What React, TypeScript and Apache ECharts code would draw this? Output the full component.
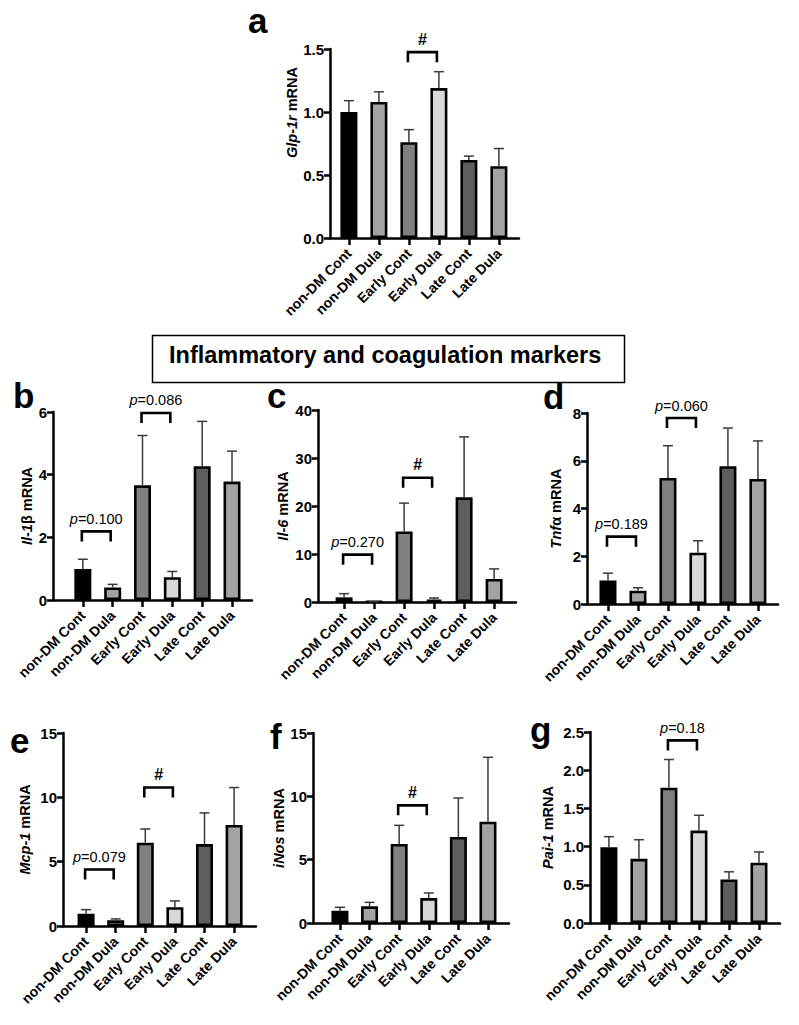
import React, { useEffect, useRef } from 'react';
import * as echarts from 'echarts';

const FONT = '"Liberation Sans", Arial, Helvetica, sans-serif';

const categories = ['non-DM Cont', 'non-DM Dula', 'Early Cont', 'Early Dula', 'Late Cont', 'Late Dula'];
const barColors = ['#000000', '#a3a3a3', '#808080', '#d8d8d8', '#5e5e5e', '#a3a3a3'];

// a: Glp-1r
const glp1rMean = [1.0, 1.08, 0.76, 1.19, 0.62, 0.57];
const glp1rSem = [0.09, 0.08, 0.1, 0.13, 0.03, 0.14];
const glp1rBrackets: [number, number, number, string][] = [[2, 3, 1.475, '#']];
const glp1rTicks = { max: 1.5, interval: 0.5, decimals: 1 };

// b: Il-1β
const il1bMean = [0.99, 0.4, 3.66, 0.73, 4.27, 3.78];
const il1bSem = [0.31, 0.1, 1.59, 0.18, 1.43, 0.97];
const il1bBrackets: [number, number, number, string][] = [[0, 1, 2.19, 'p=0.100'], [2, 3, 5.97, 'p=0.086']];
const il1bTicks = { max: 6, interval: 2, decimals: 0 };

// c: Il-6
const il6Mean = [0.97, 0.05, 14.7, 0.5, 21.8, 4.8];
const il6Sem = [0.77, 0.05, 5.9, 0.33, 12.6, 2.1];
const il6Brackets: [number, number, number, string][] = [[0, 1, 9.86, 'p=0.270'], [2, 3, 25.9, '#']];
const il6Ticks = { max: 40, interval: 10, decimals: 0 };

// d: Tnfα
const tnfaMean = [0.98, 0.56, 5.28, 2.15, 5.77, 5.24];
const tnfaSem = [0.31, 0.12, 1.35, 0.5, 1.6, 1.59];
const tnfaBrackets: [number, number, number, string][] = [[0, 1, 2.82, 'p=0.189'], [2, 3, 7.79, 'p=0.060']];
const tnfaTicks = { max: 8, interval: 2, decimals: 0 };

// e: Mcp-1
const mcp1Mean = [0.96, 0.44, 6.47, 1.46, 6.37, 7.85];
const mcp1Sem = [0.31, 0.11, 1.07, 0.49, 2.42, 2.91];
const mcp1Brackets: [number, number, number, string][] = [[0, 1, 4.39, 'p=0.079'], [2, 3, 10.76, '#']];
const mcp1Ticks = { max: 15, interval: 5, decimals: 0 };

// f: iNos
const inosMean = [0.97, 1.32, 6.24, 1.97, 6.79, 8.0];
const inosSem = [0.27, 0.31, 1.47, 0.4, 3.08, 5.08];
const inosBrackets: [number, number, number, string][] = [[2, 3, 9.29, '#']];
const inosTicks = { max: 15, interval: 5, decimals: 0 };

// g: Pai-1
const pai1Mean = [0.99, 0.84, 1.77, 1.21, 0.57, 0.79];
const pai1Sem = [0.14, 0.25, 0.37, 0.2, 0.1, 0.14];
const pai1Brackets: [number, number, number, string][] = [[2, 3, 2.39, 'p=0.18']];
const pai1Ticks = { max: 2.5, interval: 0.5, decimals: 1 };

const boxTitle = 'Inflammatory and coagulation markers';

type Panel = {
  letter: string;
  yName: string;
  mean: number[];
  sem: number[];
  brackets: [number, number, number, string][];
  ticks: { max: number; interval: number; decimals: number };
  axisX: number; endX: number; topY: number; zeroY: number;
  xMin: number; xMax: number; nameGap: number; nameShift: number;
  letterX: number; letterY: number;
};

const panels: Panel[] = [
  { letter: 'a', yName: '{i|Glp-1r} mRNA', mean: glp1rMean, sem: glp1rSem, brackets: glp1rBrackets, ticks: glp1rTicks,
    axisX: 330, endX: 519, topY: 49, zeroY: 238, xMin: -0.63, xMax: 5.67, nameGap: 30, nameShift: 31, letterX: 248, letterY: 3 },
  { letter: 'b', yName: '{i|Il-1}β mRNA', mean: il1bMean, sem: il1bSem, brackets: il1bBrackets, ticks: il1bTicks,
    axisX: 53, endX: 252, topY: 412, zeroY: 600, xMin: -1.0, xMax: 5.67, nameGap: 10, nameShift: 0, letterX: 13, letterY: 378 },
  { letter: 'c', yName: '{i|Il-6} mRNA', mean: il6Mean, sem: il6Sem, brackets: il6Brackets, ticks: il6Ticks,
    axisX: 318, endX: 516, topY: 410, zeroY: 602, xMin: -0.87, xMax: 5.73, nameGap: 28, nameShift: 0, letterX: 267, letterY: 378 },
  { letter: 'd', yName: '{i|Tnf}α mRNA', mean: tnfaMean, sem: tnfaSem, brackets: tnfaBrackets, ticks: tnfaTicks,
    axisX: 587, endX: 778, topY: 413, zeroY: 604, xMin: -0.7, xMax: 5.67, nameGap: 24, nameShift: 0, letterX: 543, letterY: 379 },
  { letter: 'e', yName: '{i|Mcp-1} mRNA', mean: mcp1Mean, sem: mcp1Sem, brackets: mcp1Brackets, ticks: mcp1Ticks,
    axisX: 63, endX: 256, topY: 733, zeroY: 926, xMin: -0.78, xMax: 5.74, nameGap: 31, nameShift: 0, letterX: 10, letterY: 723 },
  { letter: 'f', yName: '{i|iNos} mRNA', mean: inosMean, sem: inosSem, brackets: inosBrackets, ticks: inosTicks,
    axisX: 313, endX: 509, topY: 733, zeroY: 923, xMin: -0.91, xMax: 5.71, nameGap: 25, nameShift: 0, letterX: 270, letterY: 719 },
  { letter: 'g', yName: '{i|Pai-1} mRNA', mean: pai1Mean, sem: pai1Sem, brackets: pai1Brackets, ticks: pai1Ticks,
    axisX: 590, endX: 780, topY: 732, zeroY: 923, xMin: -0.63, xMax: 5.7, nameGap: 35, nameShift: 0, letterX: 530, letterY: 712 },
];

const AXIS_W = 2.5;
const catIdx = categories.map((_, k) => k);

function buildOption() {
  const grid: any[] = [];
  const xAxis: any[] = [];
  const yAxis: any[] = [];
  const series: any[] = [];
  const graphic: any[] = [];

  panels.forEach((p, gi) => {
    grid.push({
      left: p.axisX, top: p.topY, width: p.endX - p.axisX, height: p.zeroY - p.topY,
      containLabel: false, outerBoundsMode: 'none',
    });
    xAxis.push({
      type: 'value', gridIndex: gi, min: p.xMin, max: p.xMax,
      splitLine: { show: false },
      axisLine: { show: true, onZero: false, lineStyle: { color: '#000', width: AXIS_W } },
      axisTick: { show: true, customValues: catIdx, length: 7, lineStyle: { color: '#000', width: AXIS_W } },
      axisLabel: {
        customValues: catIdx, rotate: 45, margin: 13,
        formatter: (v: number) => categories[Math.round(v)] ?? '',
        fontFamily: FONT, fontWeight: 'bold', fontSize: 14, color: '#000',
      },
    });
    yAxis.push({
      type: 'value', gridIndex: gi, min: 0, max: p.ticks.max, interval: p.ticks.interval,
      splitLine: { show: false },
      axisLine: { show: true, onZero: false, lineStyle: { color: '#000', width: AXIS_W } },
      axisTick: { show: true, length: 6, lineStyle: { color: '#000', width: AXIS_W } },
      axisLabel: {
        margin: 6, fontFamily: FONT, fontWeight: 'bold', fontSize: 15, color: '#000',
        formatter: (v: number) => v.toFixed(p.ticks.decimals),
      },
      name: p.yName, nameLocation: 'middle', nameRotate: 90, nameGap: p.nameGap,
      nameTextStyle: {
        fontFamily: FONT, fontWeight: 'bold', fontSize: 14.5, color: '#000',
        padding: p.nameShift ? [0, 0, 0, p.nameShift * 2] : 0,
        rich: { i: { fontFamily: FONT, fontWeight: 'bold', fontStyle: 'italic', fontSize: 14.5, color: '#000' } },
      },
    });

    series.push({
      type: 'bar', xAxisIndex: gi, yAxisIndex: gi, barWidth: 17,
      data: p.mean.map((v, k) => ({ value: [k, v], itemStyle: { color: barColors[k] } })),
      itemStyle: { borderColor: '#000', borderWidth: 2.6 },
      emphasis: { disabled: true },
    });

    series.push({
      type: 'custom', xAxisIndex: gi, yAxisIndex: gi, z: 3,
      data: p.mean.map((v, k) => [k, v, v + p.sem[k]]),
      encode: { x: 0, y: [1, 2] },
      renderItem: (params: any, api: any) => {
        const x = api.value(0), m = api.value(1), u = api.value(2);
        const p0 = api.coord([x, m]);
        const p1 = api.coord([x, u]);
        const st = { stroke: '#3a3a3a', lineWidth: 1.5 };
        return {
          type: 'group',
          children: [
            { type: 'line', shape: { x1: p0[0], y1: p0[1], x2: p1[0], y2: p1[1] }, style: st },
            { type: 'line', shape: { x1: p1[0] - 5, y1: p1[1], x2: p1[0] + 5, y2: p1[1] }, style: st },
          ],
        };
      },
    });

    series.push({
      type: 'custom', xAxisIndex: gi, yAxisIndex: gi, z: 4,
      data: p.brackets.map((b) => [b[0], b[1], b[2]]),
      encode: { x: [0, 1], y: 2 },
      renderItem: (params: any, api: any) => {
        const i = api.value(0), j = api.value(1), y = api.value(2);
        const lbl = p.brackets[params.dataIndex][3];
        const a = api.coord([i, y]);
        const b = api.coord([j, y]);
        const x1 = a[0] - 1, x2 = b[0] - 2;
        const isHash = lbl === '#';
        const text = isHash ? '#' : '{i|p}' + lbl.slice(1);
        return {
          type: 'group',
          children: [
            {
              type: 'polyline',
              shape: { points: [[x1, a[1] + 10], [x1, a[1]], [x2, a[1]], [x2, a[1] + 10]] },
              style: { stroke: '#000', lineWidth: 2.6, fill: 'none' },
            },
            {
              type: 'text',
              style: {
                x: (x1 + x2) / 2, y: a[1] - 5, text,
                align: 'center', verticalAlign: 'bottom',
                textAlign: 'center', textVerticalAlign: 'bottom',
                fontFamily: FONT, fontSize: isHash ? 16 : 14.5, fontWeight: isHash ? 'bold' : 'normal', fill: '#000',
                rich: { i: { fontFamily: FONT, fontSize: 14.5, fontStyle: 'italic', fill: '#000' } },
              },
            },
          ],
        };
      },
    });

    graphic.push({
      type: 'text', left: p.letterX, top: p.letterY,
      style: { text: p.letter, fontFamily: FONT, fontSize: 35, fontWeight: 'bold', fill: '#000' },
    });
  });

  graphic.push({
    type: 'rect', left: 150, top: 333,
    shape: { width: 472, height: 47 },
    style: { fill: 'none', stroke: '#000', lineWidth: 1.5 },
  });
  graphic.push({
    type: 'text', left: 169, top: 343,
    style: { text: boxTitle, fontFamily: FONT, fontSize: 23.5, fontWeight: 'bold', fill: '#000' },
  });

  return { animation: false, backgroundColor: '#fff', grid, xAxis, yAxis, series, graphic };
}

export default function App() {
  const ref = useRef<HTMLDivElement>(null);
  useEffect(() => {
    document.body.style.margin = '0';
    if (!ref.current) return;
    const chart = echarts.init(ref.current, undefined, { renderer: 'svg' });
    chart.setOption(buildOption() as any);
    return () => chart.dispose();
  }, []);
  return <div ref={ref} style={{ width: 799, height: 1025 }} />;
}
